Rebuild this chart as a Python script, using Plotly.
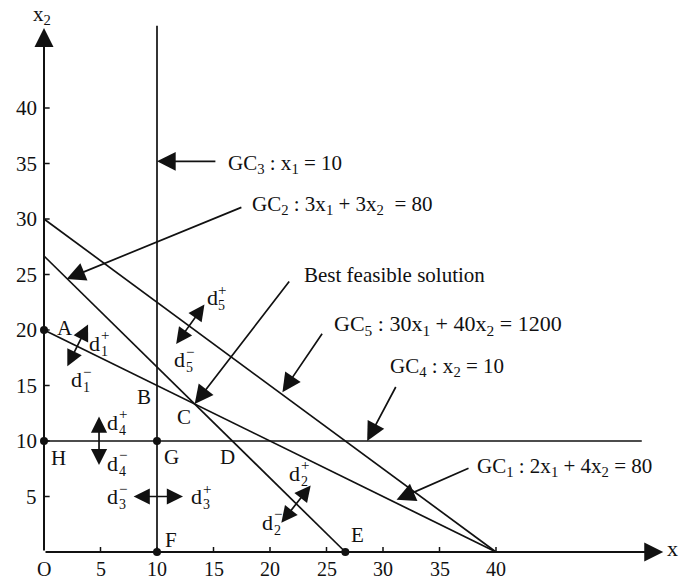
import plotly.graph_objects as go

# Goal constraints written as a1*x1 + a2*x2 = b
GC1 = (2, 4, 80)
GC2 = (3, 3, 80)
GC5 = (30, 40, 1200)
GC3_X1 = 10          # x1 = 10
GC4_X2 = 10          # x2 = 10

x_ticks = [5, 10, 15, 20, 25, 30, 35, 40]
y_ticks = [5, 10, 15, 20, 25, 30, 35, 40]
x_tick_labels = ["5", "10", "15", "20", "25", "30", "35", "40"]
y_tick_labels = ["5", "10", "15", "20", "25", "30", "35", "40"]

X_AXIS_END = 54.8
Y_AXIS_END = 47.2
GC3_TOP = 47.4
GC4_RIGHT = 52.9

# pixel geometry of the drawing
W, H = 682, 581
OX, OY = 44, 552          # origin in pixels
SX, SY = 11.3, 11.1       # pixels per unit

FONT = "Liberation Serif"
BLACK = "#111111"


def intercepts(c):
    a1, a2, b = c
    return b / a1, b / a2


def intersect(c1, c2):
    a1, a2, b = c1
    c1_, c2_, d = c2
    det = a1 * c2_ - a2 * c1_
    return (b * c2_ - a2 * d) / det, (a1 * d - b * c1_) / det


fig = go.Figure()

# sloped goal-constraint lines
for c in (GC1, GC2, GC5):
    xi, yi = intercepts(c)
    fig.add_trace(go.Scatter(x=[0, xi], y=[yi, 0], mode="lines",
                             line=dict(color=BLACK, width=1.7), hoverinfo="skip"))

# x1 = 10 and x2 = 10
fig.add_trace(go.Scatter(x=[GC3_X1, GC3_X1], y=[0, GC3_TOP], mode="lines",
                         line=dict(color=BLACK, width=1.7), hoverinfo="skip"))
fig.add_trace(go.Scatter(x=[0, GC4_RIGHT], y=[GC4_X2, GC4_X2], mode="lines",
                         line=dict(color=BLACK, width=1.7), hoverinfo="skip"))

# corner points
xA, yA = 0, intercepts(GC1)[1]
xE, yE = intercepts(GC2)[0], 0
pts_x = [xA, 0, GC3_X1, GC3_X1, xE]
pts_y = [yA, GC4_X2, GC4_X2, 0, yE]
fig.add_trace(go.Scatter(x=pts_x, y=pts_y, mode="markers",
                         marker=dict(color=BLACK, size=8), hoverinfo="skip"))

annotations = []
shapes = []


def arrow(x, y, ax, ay, both=False, width=1.7, size=2.2):
    annotations.append(dict(
        x=x, y=y, ax=ax, ay=ay, xref="x", yref="y", axref="x", ayref="y",
        text="", showarrow=True, arrowhead=2, arrowsize=size, arrowwidth=width,
        arrowcolor=BLACK, standoff=0, startstandoff=0,
        arrowside="end+start" if both else "end",
        startarrowhead=2, startarrowsize=size))


def text(x, y, s, size=21, xanchor="center", yanchor="middle", xshift=0, yshift=0):
    annotations.append(dict(
        x=x, y=y, xref="x", yref="y", text=s, showarrow=False,
        xanchor=xanchor, yanchor=yanchor, xshift=xshift, yshift=yshift,
        font=dict(family=FONT, size=size, color=BLACK)))


def dlabel(x, y, idx, sign):
    text(x, y, "d", size=22)
    text(x, y, str(idx), size=14, xanchor="left", xshift=4, yshift=-8)
    text(x, y, sign, size=15, xanchor="left", xshift=4, yshift=8)


# axes with arrowheads
arrow(X_AXIS_END, 0, 0, 0, width=2, size=1.9)
arrow(0, Y_AXIS_END, 0, 0, width=2, size=1.9)
text(-0.2, 48.4, "x<sub>2</sub>", size=21)
text(55.6, 0.3, "x", size=22)

# tick marks and tick labels
for v, lab in zip(x_ticks, x_tick_labels):
    shapes.append(dict(type="line", xref="x", yref="y", x0=v, x1=v,
                       y0=0, y1=0.45, line=dict(color=BLACK, width=1.5)))
    text(v, 0, lab, size=20, yshift=-17)
text(0, 0, "O", size=20, yshift=-17)
for v, lab in zip(y_ticks, y_tick_labels):
    shapes.append(dict(type="line", xref="x", yref="y", x0=0, x1=0.5,
                       y0=v, y1=v, line=dict(color=BLACK, width=1.5)))
    text(0, v, lab, size=21, xanchor="right", xshift=-5)

# point labels
xC, yC = intersect(GC1, GC2)
text(1.9, 20.2, "A", size=21)
text(8.85, 14.0, "B", size=21)
text(12.4, 12.2, "C", size=21)
text(16.2, 8.6, "D", size=21)
text(27.7, 1.5, "E", size=21)
text(11.2, 1.1, "F", size=21)
text(11.3, 8.6, "G", size=21)
text(1.3, 8.5, "H", size=21)

# deviation arrows
arrow(3.9, 20.5, 2.0, 16.6, both=True, size=1.9)
dlabel(4.5, 18.8, 1, "+")
dlabel(2.9, 15.5, 1, "−")
arrow(14.2, 22.3, 11.6, 18.6, both=True, size=1.9)
dlabel(14.9, 22.9, 5, "+")
dlabel(12.0, 17.3, 5, "−")
arrow(4.87, 12.2, 4.87, 7.7, both=True, size=1.9)
dlabel(6.1, 11.7, 4, "+")
dlabel(6.1, 8.0, 4, "−")
arrow(12.3, 5.0, 7.8, 5.0, both=True, size=1.9)
dlabel(13.5, 5.0, 3, "+")
dlabel(6.1, 5.0, 3, "−")
arrow(23.6, 6.0, 20.9, 2.5, both=True, size=1.9)
dlabel(22.2, 7.1, 2, "+")
dlabel(19.8, 2.7, 2, "−")

# constraint callouts
arrow(GC3_X1, 35.2, 15.3, 35.2)
text(16.1, 35.0, "GC<sub>3</sub> : x<sub>1</sub> = 10", xanchor="left")
arrow(2.0, 24.6, 17.6, 31.1)
text(18.2, 31.3, "GC<sub>2</sub> : 3x<sub>1</sub> + 3x<sub>2</sub>  = 80", xanchor="left")
arrow(xC, yC, 21.8, 24.5)
text(22.8, 25.0, "Best feasible solution", xanchor="left")
arrow(21.1, 14.4, 24.7, 19.8)
text(25.5, 20.45, "GC<sub>5</sub> : 30x<sub>1</sub> + 40x<sub>2</sub> = 1200", size=22, xanchor="left")
arrow(28.6, GC4_X2, 31.2, 15.0)
text(30.4, 16.7, "GC<sub>4</sub> : x<sub>2</sub> = 10", xanchor="left")
arrow(31.2, 4.7, 37.7, 7.6)
text(38.1, 7.7, "GC<sub>1</sub> : 2x<sub>1</sub> + 4x<sub>2</sub> = 80", xanchor="left")

fig.update_layout(
    width=W, height=H, margin=dict(l=0, r=0, t=0, b=0),
    paper_bgcolor="white", plot_bgcolor="white", showlegend=False,
    xaxis=dict(range=[-OX / SX, (W - OX) / SX], visible=False, fixedrange=True),
    yaxis=dict(range=[-(H - OY) / SY, OY / SY], visible=False, fixedrange=True),
    annotations=annotations, shapes=shapes,
)

fig.write_html("out.html")
